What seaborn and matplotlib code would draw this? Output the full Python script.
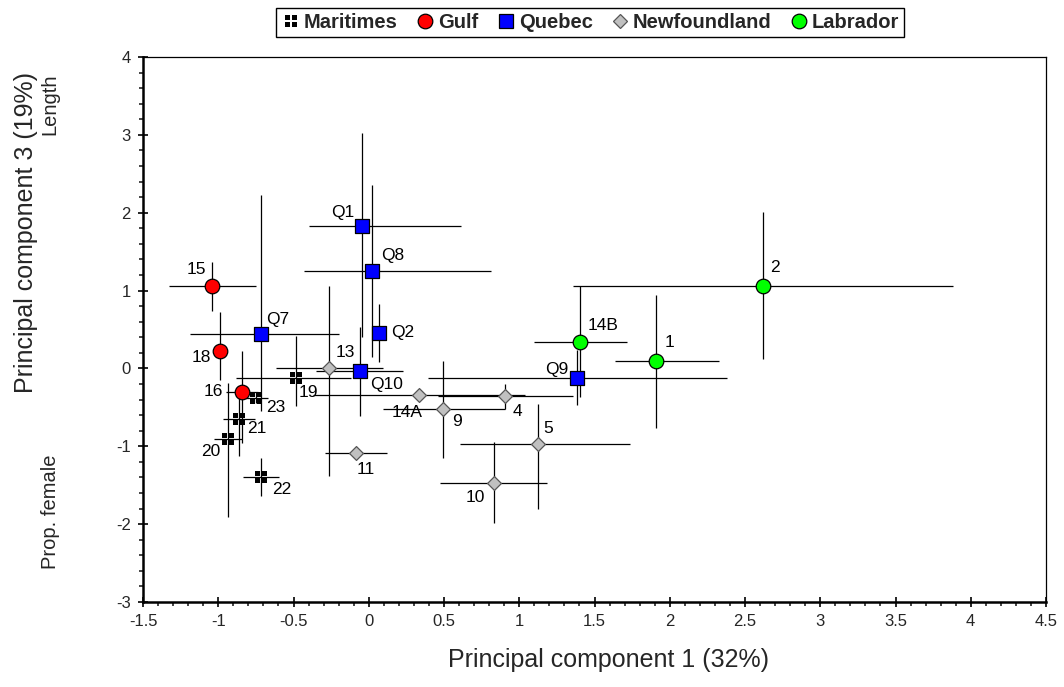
import numpy as np
import pandas as pd
import matplotlib
matplotlib.use("Agg")
import matplotlib.pyplot as plt
from matplotlib.path import Path
from matplotlib.markers import MarkerStyle
from matplotlib.lines import Line2D
from matplotlib.ticker import MultipleLocator, FuncFormatter
import seaborn as sns

# Site scores on principal components 1 and 3, with interval limits
sites = ["19", "23", "21", "20", "22",
         "15", "18", "16",
         "Q1", "Q8", "Q2", "Q7", "Q10", "Q9",
         "13", "11", "14A", "9", "4", "5", "10",
         "14B", "1", "2"]
regions = ["Maritimes"] * 5 + ["Gulf"] * 3 + ["Quebec"] * 6 + ["Newfoundland"] * 7 + ["Labrador"] * 3
pc1 = [-0.483, -0.751, -0.862, -0.937, -0.718,
       -1.043, -0.986, -0.842,
       -0.043, 0.022, 0.068, -0.716, -0.058, 1.386,
       -0.262, -0.085, 0.336, 0.495, 0.905, 1.122, 0.832,
       1.406, 1.911, 2.620]
pc3 = [-0.125, -0.380, -0.647, -0.904, -1.400,
       1.060, 0.230, -0.304,
       1.830, 1.253, 0.461, 0.440, -0.035, -0.117,
       0.000, -1.080, -0.339, -0.522, -0.350, -0.972, -1.473,
       0.345, 0.098, 1.060]
pc1_low = [-0.880, -0.830, -0.970, -1.028, -0.838,
           -1.325, -1.020, -0.948,
           -0.397, -0.430, 0.030, -1.188, -0.350, 0.396,
           -0.618, -0.290, -0.368, 0.097, 0.462, 0.606, 0.473,
           1.098, 1.636, 1.355]
pc1_high = [-0.115, -0.667, -0.756, -0.845, -0.596,
            -0.751, -0.950, -0.736,
            0.613, 0.813, 0.100, -0.200, 0.230, 2.378,
            0.095, 0.119, 1.040, 0.905, 1.355, 1.736, 1.186,
            1.714, 2.327, 3.884]
pc3_low = [-0.480, -0.440, -1.131, -1.905, -1.644,
           0.743, -0.155, -0.955,
           0.410, 0.153, 0.080, -0.553, -0.617, -0.474,
           -1.379, -1.110, -0.370, -1.152, -0.523, -1.806, -1.986,
           -0.370, -0.767, 0.119]
pc3_high = [0.418, -0.300, -0.317, -0.190, -1.148,
            1.365, 0.720, 0.225,
            3.030, 2.353, 0.825, 2.224, 0.530, 0.240,
            1.060, -1.050, -0.310, 0.100, -0.198, -0.454, -0.950,
            1.060, 0.945, 2.014]

# Label offsets from each marker, in pixels (x right, y up)
label_offsets = {
    "19": (12, -14), "23": (20, -9), "21": (18, -10), "20": (-17, -13), "22": (21, -12),
    "15": (-15, 16), "18": (-19, -7), "16": (-29, 1),
    "Q1": (-20, 13), "Q8": (21, 15), "Q2": (24, 0), "Q7": (17, 15), "Q10": (27, -13), "Q9": (-21, 8),
    "13": (16, 16), "11": (10, -17), "14A": (-12, -18), "9": (14, -12), "4": (12, -16),
    "5": (11, 16), "10": (-19, -14),
    "14B": (23, 16), "1": (13, 18), "2": (12, 18),
}

df = pd.DataFrame({"site": sites, "region": regions, "pc1": pc1, "pc3": pc3,
                   "pc1_low": pc1_low, "pc1_high": pc1_high,
                   "pc3_low": pc3_low, "pc3_high": pc3_high})

# Black square split into four by a white cross
g = 0.17
quad = []
codes = []
for (x0, x1) in [(-1, -g), (g, 1)]:
    for (y0, y1) in [(-1, -g), (g, 1)]:
        quad += [(x0, y0), (x1, y0), (x1, y1), (x0, y1), (x0, y0)]
        codes += [Path.MOVETO, Path.LINETO, Path.LINETO, Path.LINETO, Path.CLOSEPOLY]
split_square = MarkerStyle(Path(quad, codes))

styles = {
    "Maritimes":    dict(marker=split_square, s=78, color="black", edgecolor="black", linewidth=0),
    "Gulf":         dict(marker="o", s=110, color="#ff0000", edgecolor="black", linewidth=0.9),
    "Quebec":       dict(marker="s", s=95, color="#0000ff", edgecolor="black", linewidth=0.9),
    "Newfoundland": dict(marker="D", s=50, color="#c0c0c0", edgecolor="#555555", linewidth=0.9),
    "Labrador":     dict(marker="o", s=110, color="#00ff00", edgecolor="black", linewidth=0.9),
}
legend_sizes = {"Maritimes": 8.5, "Gulf": 10.5, "Quebec": 9.5, "Newfoundland": 7.5, "Labrador": 10.5}

sns.set_style("white")
plt.rcParams["font.family"] = ["Liberation Sans", "DejaVu Sans"]

fig = plt.figure(figsize=(10.64, 6.87), dpi=100)
ax = fig.add_axes([143 / 1064, 85 / 687, 903 / 1064, 545 / 687])

ax.errorbar(df["pc1"], df["pc3"],
            xerr=[df["pc1"] - df["pc1_low"], df["pc1_high"] - df["pc1"]],
            yerr=[df["pc3"] - df["pc3_low"], df["pc3_high"] - df["pc3"]],
            fmt="none", ecolor="black", elinewidth=0.9, capsize=0, zorder=2)

for region, st in styles.items():
    sub = df[df["region"] == region]
    sns.scatterplot(data=sub, x="pc1", y="pc3", ax=ax, legend=False, zorder=3, **st)

for _, row in df.iterrows():
    dx, dy = label_offsets[row["site"]]
    ax.annotate(row["site"], (row["pc1"], row["pc3"]), xytext=(dx, dy),
                textcoords="offset pixels", ha="center", va="center",
                fontsize=12.5, color="black", zorder=4)

ax.set_xlim(-1.5, 4.5)
ax.set_ylim(-3, 4)
ax.xaxis.set_major_locator(MultipleLocator(0.5))
ax.xaxis.set_minor_locator(MultipleLocator(0.1))
ax.yaxis.set_major_locator(MultipleLocator(1))
ax.yaxis.set_minor_locator(MultipleLocator(0.2))
ax.xaxis.set_major_formatter(FuncFormatter(lambda v, p: f"{v:g}"))
ax.yaxis.set_major_formatter(FuncFormatter(lambda v, p: f"{v:g}"))
ax.tick_params(which="major", direction="inout", length=7.5, width=1.4, labelsize=12,
               bottom=True, left=True, pad=5)
ax.tick_params(which="minor", direction="out", length=3, width=1.2, bottom=True, left=True)
ax.set_xlabel("")
ax.set_ylabel("")
for side in ["left", "bottom"]:
    ax.spines[side].set_linewidth(1.8)
for side in ["top", "right"]:
    ax.spines[side].set_linewidth(0.9)
for sp in ax.spines.values():
    sp.set_color("black")

fig.text(609 / 1064, 1 - 660 / 687, "Principal component 1 (32%)", ha="center", va="center", fontsize=18)
fig.text(26 / 1064, 1 - 232 / 687, "Principal component 3 (19%)", ha="center", va="center",
         rotation=90, fontsize=18)
fig.text(50 / 1064, 1 - 104 / 687, "Length", ha="center", va="center", rotation=90, fontsize=14.5)
fig.text(50 / 1064, 1 - 512 / 687, "Prop. female", ha="center", va="center", rotation=90, fontsize=14.5)

handles = []
for region, st in styles.items():
    handles.append(Line2D([], [], linestyle="none", marker=st["marker"],
                          markersize=legend_sizes[region],
                          markerfacecolor=st["color"], markeredgecolor=st["edgecolor"],
                          markeredgewidth=st["linewidth"]))
leg = fig.legend(handles, list(styles.keys()), loc="center",
                 bbox_to_anchor=(590 / 1064, 1 - 22.5 / 687), ncol=5, frameon=True,
                 fancybox=False, edgecolor="black", framealpha=1,
                 prop={"weight": "bold", "size": 14.5}, handletextpad=0.15,
                 columnspacing=0.85, handlelength=1.0, borderpad=0.25, borderaxespad=0)
leg.get_frame().set_linewidth(1.0)

fig.savefig("out.png", dpi=100)
